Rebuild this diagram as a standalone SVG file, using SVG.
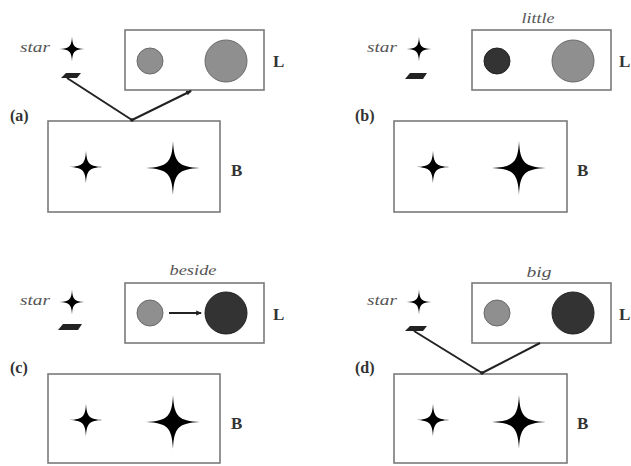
<svg xmlns="http://www.w3.org/2000/svg" width="631" height="466" viewBox="0 0 631 466">
<style>
.box{fill:#fff;stroke:#7a7a7a;stroke-width:1.6}
.lt{fill:#8f8f8f;stroke:#6a6a6a;stroke-width:1}
.dk{fill:#333;stroke:#222;stroke-width:1}
.star{fill:#000}
.it{font-family:"Liberation Serif","Times New Roman",serif;font-style:italic;font-size:15px;fill:#555}
.lab{font-family:"Liberation Serif","Times New Roman",serif;font-weight:bold;fill:#333}
.pl{font-family:"Liberation Serif","Times New Roman",serif;font-weight:bold;font-size:16px;fill:#333}
.con{stroke:#222;stroke-width:2;fill:none}
.dash{fill:#222}
</style>
<defs>
<path id="st" d="M0,-1 C0.04,-0.2 0.2,-0.04 1,0 C0.2,0.04 0.04,0.2 0,1 C-0.04,0.2 -0.2,0.04 -1,0 C-0.2,-0.04 -0.04,-0.2 0,-1Z"/>
<marker id="ah" viewBox="0 0 10 10" refX="8" refY="5" markerWidth="3" markerHeight="3" orient="auto">
<path d="M0,1 L10,5 L0,9Z" fill="#222"/>
</marker>
</defs>
<rect width="631" height="466" fill="#fff"/>

<!-- Panel (a) -->
<g id="panel-a">
<text class="pl" x="10" y="121">(a)</text>
<g id="a-word">
<text class="it" x="20" y="52" textLength="30" lengthAdjust="spacingAndGlyphs">star</text>
<use href="#st" class="star" transform="translate(72,49) scale(12.5)"/>
<polygon class="dash" points="61,78 66,73 81,73 77,78"/>
</g>
<g id="a-L">
<rect class="box" x="125" y="30" width="139" height="60"/>
<circle class="lt" cx="150" cy="61" r="13"/>
<circle class="lt" cx="226" cy="61" r="21"/>
<text class="lab" x="273" y="67" font-size="17">L</text>
</g>
<g id="a-B">
<rect class="box" x="48" y="121" width="172" height="91"/>
<use href="#st" class="star" transform="translate(86,167) scale(16.5)"/>
<use href="#st" class="star" transform="translate(173,168) scale(27)"/>
<text class="lab" x="231" y="176" font-size="17">B</text>
</g>
</g>

<!-- Panel (b) -->
<g id="panel-b">
<text class="pl" x="355" y="121">(b)</text>
<text class="it" x="538" y="23" text-anchor="middle" textLength="33" lengthAdjust="spacingAndGlyphs">little</text>
<g id="b-word">
<text class="it" x="367" y="52" textLength="30" lengthAdjust="spacingAndGlyphs">star</text>
<use href="#st" class="star" transform="translate(419,49) scale(12.5)"/>
<polygon class="dash" points="405,79 410,73 427,73 423,79"/>
</g>
<g id="b-L">
<rect class="box" x="472" y="30" width="139" height="60"/>
<circle class="dk" cx="497" cy="61" r="13"/>
<circle class="lt" cx="573" cy="61" r="21"/>
<text class="lab" x="619" y="67" font-size="17">L</text>
</g>
<g id="b-B">
<rect class="box" x="394" y="121" width="173" height="91"/>
<use href="#st" class="star" transform="translate(433,167) scale(16.5)"/>
<use href="#st" class="star" transform="translate(519,168) scale(27)"/>
<text class="lab" x="577" y="176" font-size="17">B</text>
</g>
</g>

<!-- Panel (c) -->
<g id="panel-c">
<text class="pl" x="10" y="373">(c)</text>
<text class="it" x="193" y="275" text-anchor="middle" textLength="47" lengthAdjust="spacingAndGlyphs">beside</text>
<g id="c-word">
<text class="it" x="20" y="305" textLength="30" lengthAdjust="spacingAndGlyphs">star</text>
<use href="#st" class="star" transform="translate(72,302) scale(12.5)"/>
<polygon class="dash" points="58,330 63,324 82,324 78,330"/>
</g>
<g id="c-L">
<rect class="box" x="125" y="283" width="139" height="60"/>
<circle class="lt" cx="150" cy="313" r="13"/>
<circle class="dk" cx="226" cy="313" r="21"/>
<text class="lab" x="273" y="320" font-size="17">L</text>
</g>
<g id="c-B">
<rect class="box" x="48" y="374" width="172" height="89"/>
<use href="#st" class="star" transform="translate(86,420) scale(16.5)"/>
<use href="#st" class="star" transform="translate(173,422) scale(27)"/>
<text class="lab" x="231" y="429" font-size="17">B</text>
</g>
</g>

<!-- Panel (d) -->
<g id="panel-d">
<text class="pl" x="355" y="373">(d)</text>
<text class="it" x="539" y="277" text-anchor="middle" textLength="25" lengthAdjust="spacingAndGlyphs">big</text>
<g id="d-word">
<text class="it" x="367" y="305" textLength="30" lengthAdjust="spacingAndGlyphs">star</text>
<use href="#st" class="star" transform="translate(419,302) scale(12.5)"/>
<polygon class="dash" points="405,331 410,326 427,326 423,331"/>
</g>
<g id="d-L">
<rect class="box" x="472" y="283" width="139" height="60"/>
<circle class="lt" cx="497" cy="313" r="13"/>
<circle class="dk" cx="573" cy="313" r="21"/>
<text class="lab" x="619" y="320" font-size="17">L</text>
</g>
<g id="d-B">
<rect class="box" x="394" y="374" width="173" height="89"/>
<use href="#st" class="star" transform="translate(433,420) scale(16.5)"/>
<use href="#st" class="star" transform="translate(519,422) scale(27)"/>
<text class="lab" x="577" y="429" font-size="17">B</text>
</g>
</g>

<!-- Connectors -->
<g id="connectors">
<line class="con" x1="132" y1="120" x2="67" y2="78"/>
<line class="con" x1="132" y1="120" x2="191" y2="91" marker-end="url(#ah)"/>
<circle cx="132" cy="120" r="1.8" fill="#222"/>
<line class="con" x1="169" y1="313" x2="201" y2="313" marker-end="url(#ah)"/>
<line class="con" x1="482" y1="373" x2="414" y2="331"/>
<line class="con" x1="482" y1="373" x2="540" y2="343"/>
<circle cx="482" cy="373" r="1.8" fill="#222"/>
</g>
</svg>
